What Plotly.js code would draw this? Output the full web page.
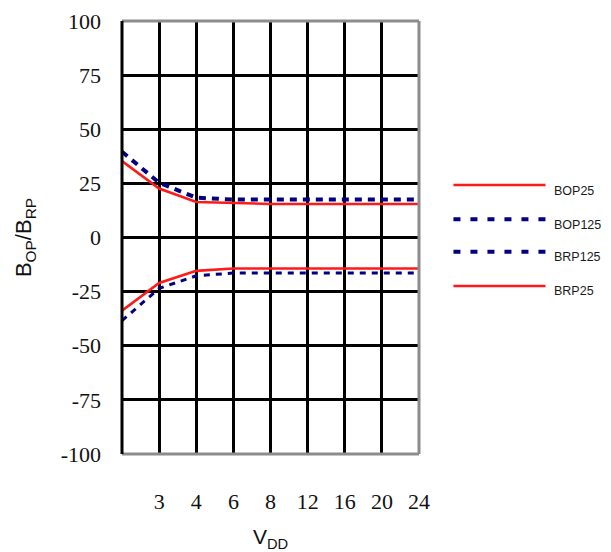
<!DOCTYPE html>
<html>
<head>
<meta charset="utf-8">
<script src="https://cdn.plot.ly/plotly-3.0.1.min.js"></script>
<style>html,body{margin:0;padding:0;background:#fff;}#chart{width:611px;height:552px;}</style>
</head>
<body>
<div id="chart"></div>
<script>
// Category positions (first category unlabeled)
const xIndex = [0, 1, 2, 3, 4, 5, 6, 7, 8];
const tickVals = [1, 2, 3, 4, 5, 6, 7, 8];
const tickLabels = ["3", "4", "6", "8", "12", "16", "20", "24"];
const yTickVals = [-100, -75, -50, -25, 0, 25, 50, 75, 100];
const yTickLabels = ["-100", "-75", "-50", "-25", "0", "25", "50", "75", "100"];

const BOP25  = [35.3, 22.6, 16.4, 15.8, 15.5, 15.5, 15.5, 15.5, 15.5];
const BOP125 = [39.6, 25.3, 18.4, 17.5, 17.5, 17.5, 17.5, 17.5, 17.5];
const BRP125 = [-38.4, -23.5, -17.7, -16.4, -16.4, -16.4, -16.4, -16.4, -16.4];
const BRP25  = [-33.8, -21.0, -15.4, -14.3, -14.3, -14.3, -14.3, -14.3, -14.3];

const seriesNames = ["BOP25", "BOP125", "BRP125", "BRP25"];

const RED = "#ff1a1a";
const NAVY = "#000080";
const SERIF = "'Liberation Serif', 'Times New Roman', 'DejaVu Serif', serif";
const SANS = "'Liberation Sans', Arial, sans-serif";

const traces = [
  {x: xIndex, y: BOP25, name: seriesNames[0], mode: "lines", line: {color: RED, width: 2.6}},
  {x: xIndex, y: BOP125, name: seriesNames[1], mode: "lines", line: {color: NAVY, width: 4, dash: "7px,6px"}},
  {x: xIndex, y: BRP125, name: seriesNames[2], mode: "lines", line: {color: NAVY, width: 3, dash: "6px,6px"}},
  {x: xIndex, y: BRP25, name: seriesNames[3], mode: "lines", line: {color: RED, width: 2.6}}
];
const data = [traces[1], traces[2], traces[0], traces[3]];

// Legend (drawn manually to match long sample lines)
const legY = [0.621, 0.542, 0.467, 0.388];
const legTextY = [0.608, 0.530, 0.455, 0.376];
const legStyle = [
  {color: RED, width: 2.5, dash: "solid"},
  {color: NAVY, width: 4, dash: "7px,10px"},
  {color: NAVY, width: 4, dash: "7px,10px"},
  {color: RED, width: 2.5, dash: "solid"}
];

const shapes = [
  {type: "line", xref: "paper", yref: "paper", x0: 0, x1: 1, y0: 1, y1: 1, line: {color: "#8c8c8c", width: 3}, layer: "above"},
  {type: "line", xref: "paper", yref: "paper", x0: 1, x1: 1, y0: 0, y1: 1, line: {color: "#8c8c8c", width: 3}, layer: "above"},
  {type: "line", xref: "paper", yref: "paper", x0: 0, x1: 1, y0: 0, y1: 0, line: {color: "#8c8c8c", width: 3}, layer: "above"},
  {type: "line", xref: "paper", yref: "paper", x0: 0, x1: 0, y0: 0, y1: 1, line: {color: "#000", width: 3}, layer: "above"}
];
const annotations = [];
seriesNames.forEach((n, i) => {
  shapes.push({type: "line", xref: "paper", yref: "paper", x0: 1.116, x1: 1.426, y0: legY[i], y1: legY[i], line: legStyle[i]});
  annotations.push({xref: "paper", yref: "paper", x: 1.448, y: legTextY[i], xanchor: "left", yanchor: "middle",
    text: n, showarrow: false, font: {family: SANS, size: 12.5, color: "#1a1a1a"}});
});

const layout = {
  width: 611, height: 552,
  margin: {l: 122, r: 192, t: 21, b: 98},
  paper_bgcolor: "#fff", plot_bgcolor: "#fff",
  showlegend: false,
  xaxis: {
    range: [0, 8], tickmode: "array", tickvals: tickVals, ticktext: tickLabels,
    showgrid: true, gridcolor: "#000", gridwidth: 3, zeroline: false, showline: false,
    ticks: "", ticklabelstandoff: 32,
    tickfont: {family: SERIF, size: 22, color: "#111"},
    title: {text: "V<sub>DD</sub>", font: {family: SANS, size: 21, color: "#111"}, standoff: 16},
    fixedrange: true
  },
  yaxis: {
    range: [-100, 100], tickmode: "array", tickvals: yTickVals, ticktext: yTickLabels,
    showgrid: true, gridcolor: "#000", gridwidth: 3, zeroline: false, showline: false,
    ticks: "", ticklabelstandoff: 20,
    tickfont: {family: SERIF, size: 22, color: "#111"},
    title: {text: "B<sub>OP</sub>/B<sub>RP</sub>", font: {family: SANS, size: 22, color: "#111"}, standoff: 22},
    fixedrange: true
  },
  shapes: shapes,
  annotations: annotations
};

Plotly.newPlot("chart", data, layout, {displayModeBar: false, staticPlot: true});
</script>
</body>
</html>
